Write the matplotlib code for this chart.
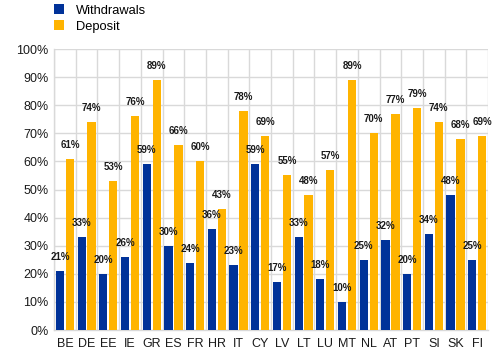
import matplotlib
matplotlib.use("Agg")
import matplotlib.pyplot as plt
import numpy as np
from matplotlib.ticker import FuncFormatter, MultipleLocator

plt.rcParams['font.family'] = ['Liberation Sans', 'DejaVu Sans']

countries = ["BE", "DE", "EE", "IE", "GR", "ES", "FR", "HR", "IT", "CY",
             "LV", "LT", "LU", "MT", "NL", "AT", "PT", "SI", "SK", "FI"]
withdrawals = [21, 33, 20, 26, 59, 30, 24, 36, 23, 59,
               17, 33, 18, 10, 25, 32, 20, 34, 48, 25]
deposit = [61, 74, 53, 76, 89, 66, 60, 43, 78, 69,
           55, 48, 57, 89, 70, 77, 79, 74, 68, 69]

blue = "#003299"
yellow = "#FFB400"
grid = "#d9d9d9"

fig = plt.figure(figsize=(4.96, 3.57), dpi=100)
ax = fig.add_axes([0.109, 0.0756, 0.875, 0.787])

x = np.arange(len(countries))
w = 0.38
off = 0.23
b1 = ax.bar(x - off, withdrawals, w, color=blue, label="Withdrawals", zorder=3)
b2 = ax.bar(x + off, deposit, w, color=yellow, label="Deposit", zorder=3)

for bars, vals in ((b1, withdrawals), (b2, deposit)):
    for rect, v in zip(bars, vals):
        ax.annotate(f"{v}%", (rect.get_x() + rect.get_width() / 2, v),
                    xytext=(0, 6.5), textcoords="offset points",
                    ha="center", va="bottom", fontsize=7, fontweight="bold",
                    color="#1a1a1a", zorder=4)

ax.set_xlim(-0.5, len(countries) - 0.5)
ax.set_ylim(0, 100)
ax.yaxis.set_major_locator(MultipleLocator(10))
ax.yaxis.set_major_formatter(FuncFormatter(lambda v, p: f"{int(v)}%"))
ax.set_xticks(x)
ax.set_xticklabels(countries)
ax.set_xticks(np.arange(-0.5, len(countries), 1), minor=True)
ax.grid(axis="y", which="major", color=grid, linewidth=1, zorder=0)
ax.grid(axis="x", which="minor", color=grid, linewidth=1, zorder=0)
ax.tick_params(axis="both", which="both", length=0, labelsize=9, colors="#1a1a1a")
ax.tick_params(axis="x", pad=6)
ax.tick_params(axis="y", pad=4)
for s in ("top", "right"):
    ax.spines[s].set_visible(False)
for s in ("left", "bottom"):
    ax.spines[s].set_color(grid)
    ax.spines[s].set_linewidth(1)

leg = fig.legend(handles=[b1, b2], labels=["Withdrawals", "Deposit"],
                 loc="upper left", bbox_to_anchor=(0.085, 1.02), frameon=False,
                 fontsize=9.3, handlelength=0.8, handleheight=0.8,
                 handletextpad=0.9, labelspacing=0.25)

fig.savefig("out.png", dpi=100)
